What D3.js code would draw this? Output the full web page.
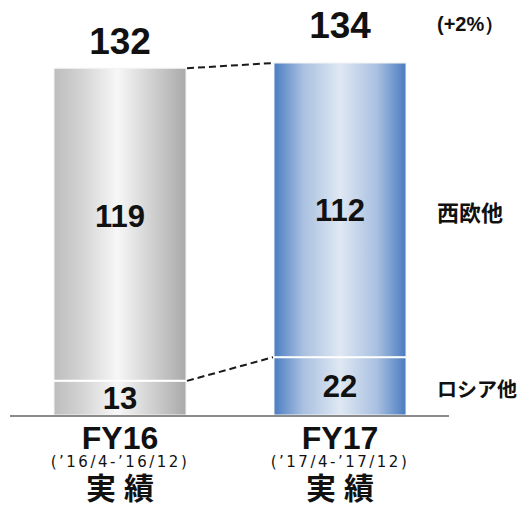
<!DOCTYPE html>
<html>
<head>
<meta charset="utf-8">
<script src="https://cdn.jsdelivr.net/npm/d3@7"></script>
<style>
  html, body { margin: 0; padding: 0; background: #fff; }
  svg { display: block; }
</style>
</head>
<body>
<svg id="chart" width="526" height="528"></svg>
<script>
// Fiscal periods and their sub-labels
const categories = ["FY16", "FY17"];
const periods = ["(’16/4-’16/12)", "(’17/4-’17/12)"];
const periodKind = ["実績", "実績"];

// Stacked series (bottom to top)
const russiaOther = [13, 22];
const westEuropeOther = [119, 112];
const seriesNames = ["ロシア他", "西欧他"];
const growthLabel = "(+2%）";

const totals = categories.map((_, i) => russiaOther[i] + westEuropeOther[i]);

const svg = d3.select("#chart");
const defs = svg.append("defs");

const x = d3.scaleBand().domain(categories).range([54, 406]).paddingInner(0.4).paddingOuter(0);
const y = d3.scaleLinear().domain([0, 134]).range([415, 63]);

// Cylinder-like horizontal gradients
function makeGrad(id, stops) {
  const g = defs.append("linearGradient").attr("id", id)
    .attr("x1", "0%").attr("x2", "100%").attr("y1", "0%").attr("y2", "0%");
  stops.forEach(([o, c]) => g.append("stop").attr("offset", o).attr("stop-color", c));
}
makeGrad("gGray", [["0%", "#bdbdbd"], ["20%", "#d2d2d2"], ["48%", "#f7f7f7"], ["80%", "#c8c8c8"], ["100%", "#a9a9a9"]]);
makeGrad("gBlue", [["0%", "#4a7dc2"], ["22%", "#a9c0e0"], ["50%", "#dfe8f3"], ["78%", "#a9c0e0"], ["100%", "#4a7cc0"]]);
const fills = ["url(#gGray)", "url(#gBlue)"];

const stacked = d3.stack().keys([0, 1])
  .value((d, k) => k === 0 ? russiaOther[d] : westEuropeOther[d])(categories.map((_, i) => i));

// Bar segments
stacked.forEach(layer => {
  layer.forEach((seg, i) => {
    svg.append("rect")
      .attr("x", x(categories[i]))
      .attr("y", y(seg[1]))
      .attr("width", x.bandwidth())
      .attr("height", y(seg[0]) - y(seg[1]))
      .attr("fill", fills[i])
      .attr("stroke", "#f4f4f4")
      .attr("stroke-width", 1);
  });
});

// White divider between the stacked segments
categories.forEach((c, i) => {
  svg.append("line")
    .attr("x1", x(c)).attr("x2", x(c) + x.bandwidth())
    .attr("y1", y(russiaOther[i])).attr("y2", y(russiaOther[i]))
    .attr("stroke", "#ffffff").attr("stroke-width", 2);
});

// Dashed connectors between the bars
const right0 = x(categories[0]) + x.bandwidth();
const left1 = x(categories[1]);
[[totals[0], totals[1]], [russiaOther[0], russiaOther[1]]].forEach(([a, b]) => {
  svg.append("line")
    .attr("x1", right0 + 1).attr("y1", y(a))
    .attr("x2", left1 - 1).attr("y2", y(b))
    .attr("stroke", "#1a1a1a").attr("stroke-width", 2)
    .attr("stroke-dasharray", "7,4");
});

// Baseline
svg.append("line")
  .attr("x1", 10).attr("x2", 449)
  .attr("y1", y(0) + 1).attr("y2", y(0) + 1)
  .attr("stroke", "#8a8a8a").attr("stroke-width", 2);

const latin = "'Liberation Sans', Arial, sans-serif";
const cjk = "'Noto Sans CJK JP', sans-serif";

// Segment value labels (upper labels nudged per bar)
const upperNudge = [-9, 0];
stacked.forEach((layer, k) => {
  layer.forEach((seg, i) => {
    svg.append("text")
      .attr("x", x(categories[i]) + x.bandwidth() / 2)
      .attr("y", (y(seg[0]) + y(seg[1])) / 2 + 11 + (k === 1 ? upperNudge[i] : 0))
      .attr("text-anchor", "middle")
      .attr("font-family", latin).attr("font-weight", "bold")
      .attr("font-size", 31).attr("fill", "#111")
      .text(seg[1] - seg[0]);
  });
});

// Totals above bars
const totalGap = [14, 25];
categories.forEach((c, i) => {
  svg.append("text")
    .attr("x", x(c) + x.bandwidth() / 2)
    .attr("y", y(totals[i]) - totalGap[i])
    .attr("text-anchor", "middle")
    .attr("font-family", latin).attr("font-weight", "bold")
    .attr("font-size", 37).attr("fill", "#111")
    .text(totals[i]);
});

// Growth rate
svg.append("text")
  .attr("x", 437).attr("y", 31)
  .attr("font-family", latin).attr("font-weight", "bold")
  .attr("font-size", 20).attr("fill", "#111")
  .text(growthLabel);

// Series names at the right, aligned with the last bar's segments
const last = categories.length - 1;
svg.append("text")
  .attr("x", 437).attr("y", (y(russiaOther[last]) + y(0)) / 2 + 11)
  .attr("font-family", cjk).attr("font-weight", "bold")
  .attr("font-size", 20).attr("fill", "#111")
  .text(seriesNames[0]);
svg.append("text")
  .attr("x", 437).attr("y", (y(totals[last]) + y(russiaOther[last])) / 2 + 11)
  .attr("font-family", cjk).attr("font-weight", "bold")
  .attr("font-size", 22).attr("fill", "#111")
  .text(seriesNames[1]);

// Category labels below baseline
categories.forEach((c, i) => {
  const cx = x(c) + x.bandwidth() / 2;
  svg.append("text")
    .attr("x", cx).attr("y", 449)
    .attr("text-anchor", "middle")
    .attr("font-family", latin).attr("font-weight", "bold")
    .attr("font-size", 32).attr("fill", "#111")
    .text(c);
  svg.append("text")
    .attr("x", cx).attr("y", 467)
    .attr("text-anchor", "middle")
    .attr("font-family", "'DejaVu Sans', sans-serif")
    .attr("font-size", 15).attr("letter-spacing", 2.5).attr("fill", "#111")
    .text(periods[i]);
  svg.append("text")
    .attr("x", cx + 4).attr("y", 499)
    .attr("text-anchor", "middle")
    .attr("font-family", cjk).attr("font-weight", "bold")
    .attr("font-size", 30).attr("letter-spacing", 8).attr("fill", "#111")
    .text(periodKind[i]);
});
</script>
</body>
</html>
